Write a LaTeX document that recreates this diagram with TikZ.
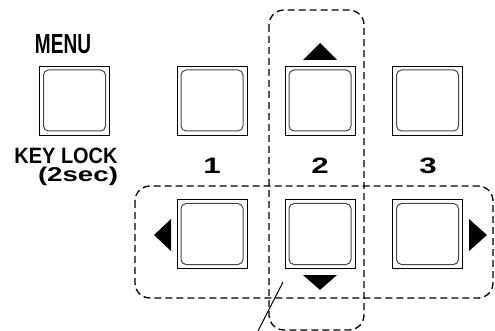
\documentclass[tikz,border=0pt]{standalone}
\usepackage{fontspec}
\setmainfont{Liberation Sans}
\usepackage{graphicx}

\newcommand{\keynum}[1]{\scalebox{1.4}[1]{\fontsize{22.3pt}{22pt}\selectfont\bfseries #1}}

\begin{document}
\begin{tikzpicture}[x=1pt, y=-1pt,
    key/.style={draw, line width=0.9pt, minimum width=70pt, minimum height=69pt, inner sep=0pt,
        path picture={\draw[line width=1pt, gray!55!black, rounded corners=5pt]
            ([shift={(4pt,4pt)}]path picture bounding box.south west) rectangle
            ([shift={(-4pt,-4pt)}]path picture bounding box.north east);}},
    keytext/.style={anchor=base, inner sep=0pt},
    zone/.style={draw, line width=1.3pt, dash pattern=on 7pt off 4pt, rounded corners=15pt},
    pointer/.style={fill=black}
]
\useasboundingbox (0,0) rectangle (495,331);

% Keys
\node[key] (menukey) at (74.5,100.5) {};
\node[key] (key1) at (212,100.5) {};
\node[key] (key2) at (320,100.5) {};
\node[key] (key3) at (427.5,100.5) {};
\node[key] (left) at (212,234) {};
\node[key] (down) at (320,234) {};
\node[key] (right) at (427.5,234) {};

% Texts
\node[keytext] (menu) at (63,54) {\resizebox{56pt}{19pt}{\bfseries MENU}};
\node[keytext] (keylock) at (66,163.5) {\resizebox{103pt}{15.5pt}{\bfseries KEY LOCK}};
\node[keytext] (hold) at (78,182) {\resizebox{80pt}{14.5pt}{\bfseries (2sec)}};
\node[keytext] (num1) at (212,174) {\keynum{1}};
\node[keytext] (num2) at (320,174) {\keynum{2}};
\node[keytext] (num3) at (428,174) {\keynum{3}};

% Arrow marks
\fill[pointer] (303,60) -- (337,60) -- (320,43) -- cycle;
\fill[pointer] (303,275) -- (337,275) -- (320,290) -- cycle;
\fill[pointer] (171,219) -- (171,251) -- (154,235) -- cycle;
\fill[pointer] (469,219) -- (469,251) -- (487,235) -- cycle;

% Dashed groups
\draw[zone] (269,10) rectangle (364,330);
\draw[zone] (135,186) rectangle (493,298);

% Leader
\coordinate (leadlow) at (258,331);
\coordinate (leadhigh) at (283,282);
\draw[line width=1pt] (leadlow) -- (leadhigh);

\end{tikzpicture}
\end{document}
